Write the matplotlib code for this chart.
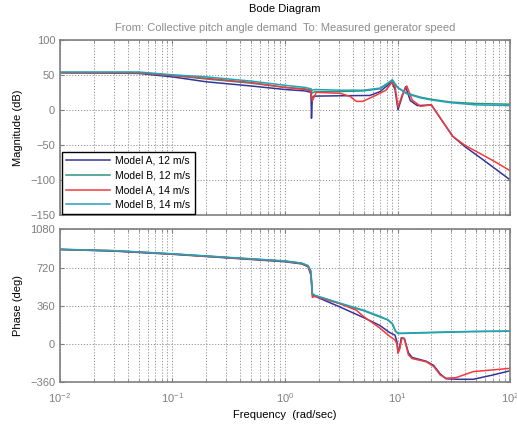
import numpy as np
import matplotlib
matplotlib.use("Agg")
from matplotlib import pyplot as plt
from matplotlib.ticker import LogLocator, NullFormatter

plt.rcParams["font.family"] = ["Liberation Sans", "DejaVu Sans"]

labels = ["Model A, 12 m/s", "Model B, 12 m/s", "Model A, 14 m/s", "Model B, 14 m/s"]
colors = ["#34349a", "#2f957a", "#f23a3a", "#22a3b8"]

# magnitude (dB)
w_mag_a12 = [0.01, 0.05, 0.1, 0.2, 0.5, 1.0, 1.5, 1.7, 1.72, 1.75, 1.8, 3, 5.7, 7.0, 7.9, 8.9, 9.5,
             10.1, 11.0, 11.8, 13.0, 15.0, 20, 25, 31, 40, 55, 75, 100]
mag_a12 = [54, 53, 48, 41, 35, 30, 28, 26, -11, 18, 20.5, 21, 21.5, 27, 34, 41, 30,
           1, 20, 34, 14, 7, 8, -15, -37, -52, -68, -84, -99]

w_mag_b12 = [0.01, 0.05, 0.1, 0.2, 0.5, 1.0, 1.5, 1.7, 1.75, 1.85, 3, 5, 7, 8.5, 9.0, 10, 12, 16, 20, 30, 50, 100]
mag_b12 = [54, 54, 50, 45, 39, 33, 31, 29, 25, 27, 27, 28, 31, 40, 43, 33, 25, 19, 16, 12, 10, 9]

w_mag_a14 = [0.01, 0.05, 0.1, 0.2, 0.5, 1.0, 1.5, 1.7, 1.75, 1.9, 3.1, 3.8, 4.3, 4.9, 6.5, 7.9, 8.9, 9.5,
             10.1, 11.0, 12.1, 13.5, 16, 20, 25, 31, 40, 55, 75, 100]
mag_a14 = [54, 54, 50, 46, 40, 33, 30, 28, 14, 26, 24.5, 20, 13, 13, 22, 29, 40, 35,
           5, 22, 35, 15, 6, 8, -15, -37, -50, -62, -74, -86]

w_mag_b14 = [0.01, 0.05, 0.1, 0.2, 0.5, 1.0, 1.5, 1.7, 1.75, 1.85, 3, 5, 7, 8.5, 9.0, 10, 12, 16, 20, 30, 50, 100]
mag_b14 = [55, 55, 51, 48, 42, 36, 33, 31, 29, 30, 29, 29, 32, 41, 44, 33, 24, 18, 15, 11, 8, 7]

# phase (deg)
w_ph_a12 = [0.01, 0.03, 0.1, 0.3, 1.0, 1.4, 1.6, 1.7, 1.75, 1.85, 3, 5, 7, 8.5, 9.5, 9.9, 10.1, 10.4,
            10.8, 11.5, 12.5, 13.5, 18, 21, 24, 27, 35, 47, 70, 100]
ph_a12 = [890, 875, 845, 812, 775, 755, 730, 650, 470, 450, 355, 250, 175, 110, 85, 20, -80, -40,
          60, 55, -80, -125, -160, -200, -280, -325, -330, -330, -290, -250]

w_ph_b12 = [0.01, 0.03, 0.1, 0.3, 1.0, 1.4, 1.6, 1.7, 1.75, 1.85, 3, 5, 7, 8.2, 9.0, 9.6, 10.1, 20, 45, 100]
ph_b12 = [890, 878, 848, 815, 780, 760, 735, 680, 470, 455, 385, 315, 255, 228, 190, 120, 100, 108, 118, 122]

w_ph_a14 = [0.01, 0.03, 0.1, 0.3, 1.0, 1.4, 1.6, 1.7, 1.75, 1.85, 3, 4.3, 5, 7, 8.6, 9.5, 9.9, 10.1, 10.5,
            10.9, 11.5, 12.5, 13.5, 18, 21, 24, 27, 33, 47, 100]
ph_a14 = [892, 878, 848, 815, 780, 760, 735, 660, 440, 450, 385, 320, 260, 150, 71, 40, 0, -85, -40,
          55, 50, -100, -135, -165, -210, -290, -320, -315, -258, -227]

w_ph_b14 = [0.01, 0.03, 0.1, 0.3, 1.0, 1.4, 1.6, 1.7, 1.75, 1.85, 3, 5, 7, 8.2, 9.0, 9.6, 10.1, 20, 45, 100]
ph_b14 = [892, 880, 850, 818, 783, 763, 740, 690, 475, 460, 390, 320, 262, 230, 195, 125, 102, 112, 120, 124]

mag_sets = [(w_mag_a12, mag_a12), (w_mag_b12, mag_b12), (w_mag_a14, mag_a14), (w_mag_b14, mag_b14)]
ph_sets = [(w_ph_a12, ph_a12), (w_ph_b12, ph_b12), (w_ph_a14, ph_a14), (w_ph_b14, ph_b14)]

grey = "#7f7f7f"
fig = plt.figure(figsize=(5.17, 4.29), dpi=100)
ax1 = fig.add_axes([0.116, 0.4977, 0.8705, 0.4079])
ax2 = fig.add_axes([0.116, 0.1084, 0.8705, 0.3571])

for (w, m), c, lab in zip(mag_sets, colors, labels):
    ax1.semilogx(w, m, color=c, lw=1.1, label=lab)
for (w, p), c in zip(ph_sets, colors):
    ax2.semilogx(w, p, color=c, lw=1.1)

for ax in (ax1, ax2):
    ax.set_xlim(0.01, 100)
    ax.xaxis.set_major_locator(LogLocator(base=10, numticks=10))
    ax.xaxis.set_minor_locator(LogLocator(base=10, subs=np.arange(2, 10), numticks=10))
    ax.xaxis.set_minor_formatter(NullFormatter())
    ax.grid(True, which="major", color="#888888", ls=(0, (1.5, 2)), lw=0.6)
    ax.grid(True, which="minor", axis="x", color="#888888", ls=(0, (1.5, 2)), lw=0.6)
    ax.tick_params(which="both", direction="in", top=True, right=True, colors=grey,
                   labelsize=8, length=3)
    ax.tick_params(which="minor", length=2)
    for s in ax.spines.values():
        s.set_color(grey)
        s.set_linewidth(1.2)

ax1.set_ylim(-150, 100)
ax1.set_yticks([-150, -100, -50, 0, 50, 100])
ax1.tick_params(labelbottom=False)
ax1.set_ylabel("Magnitude (dB)", fontsize=8, labelpad=5)

ax2.set_ylim(-360, 1080)
ax2.set_yticks([-360, 0, 360, 720, 1080])
ax2.set_ylabel("Phase (deg)", fontsize=8, labelpad=5)
ax2.set_xlabel("Frequency  (rad/sec)", fontsize=8, labelpad=4)
ax2.tick_params(axis="x", pad=6)

leg = ax1.legend(loc="lower left", bbox_to_anchor=(0.005, 0.008), fontsize=7.5, handlelength=4.2,
                 fancybox=False, framealpha=1, borderaxespad=0, labelspacing=0.45,
                 handletextpad=0.5, borderpad=0.4)
leg.get_frame().set_edgecolor("black")
leg.get_frame().set_linewidth(1.0)

fig.text(0.551, 0.978, "Bode Diagram", ha="center", va="center", fontsize=8)
fig.text(0.551, 0.935, "From: Collective pitch angle demand  To: Measured generator speed",
         ha="center", va="center", fontsize=8, color="#8c8c8c")

fig.savefig("out.png", dpi=100)
